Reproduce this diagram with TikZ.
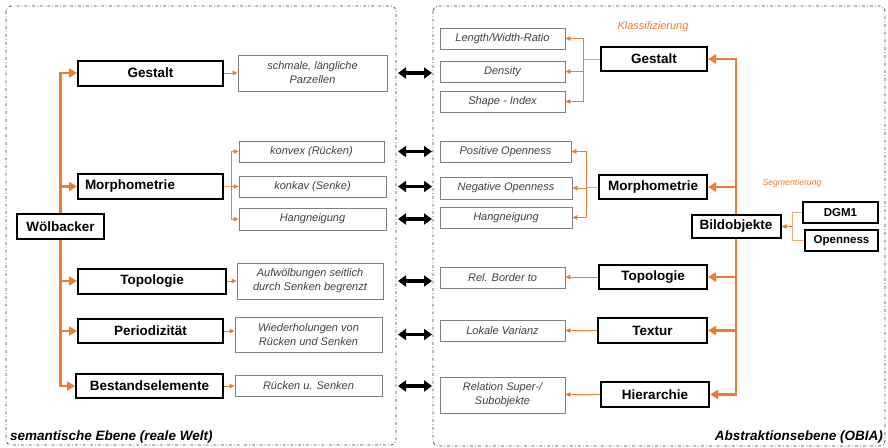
\documentclass[tikz,border=0pt]{standalone}
\usepackage{fontspec}
\setmainfont{Liberation Sans}
\usetikzlibrary{arrows.meta}

\definecolor{orange1}{RGB}{237,125,49}
\definecolor{grau1}{RGB}{128,128,128}
\definecolor{text1}{RGB}{64,64,64}

\tikzset{
  hauptbox/.style={draw=black, line width=2pt, inner sep=0pt, font=\bfseries\fontsize{13.5}{15}\selectfont},
  kleinbox/.style={hauptbox, font=\bfseries\fontsize{11.5}{13}\selectfont},
  merkmal/.style={draw=grau1, line width=0.8pt, inner sep=0pt, align=center, text=text1, font=\itshape\fontsize{11}{14}\selectfont},
  dickpfeil/.style={draw=orange1, line width=2.8pt, -{Triangle[length=8pt,width=9pt]}},
  duennpfeil/.style={draw=orange1, line width=0.8pt, -{Triangle[length=5pt,width=4.5pt]}},
  duennlinie/.style={draw=orange1!65, line width=0.8pt},
  doppelpfeil/.style={line width=3.5pt, {Triangle[length=8pt,width=11pt]}-{Triangle[length=8pt,width=11pt]}},
  rahmen/.style={draw=black!75, line width=0.7pt, dash dot, rounded corners=5pt},
  ebene/.style={font=\bfseries\itshape\fontsize{13.5}{15}\selectfont, inner sep=0pt},
}

\begin{document}
\begin{tikzpicture}[x=1pt, y=-1pt]
	\useasboundingbox (0,0) rectangle (888,447);
	% Rahmen
	\draw[rahmen] (6,6) rectangle (396,445);
	\draw[rahmen] (433,6) rectangle (885,446);
	\node[ebene, anchor=west] (semlabel) at (10,437) {semantische Ebene (reale Welt)};
	\node[ebene, anchor=east] (abslabel) at (883,437) {Abstraktionsebene (OBIA)};

	% linke Seite
	\node[hauptbox, minimum width=87pt, minimum height=25pt] (woelb) at (60.5,226.5) {Wölbacker};
	\node[hauptbox, minimum width=145pt, minimum height=25pt] (lgestalt) at (150.5,73) {Gestalt};
	\node[hauptbox, minimum height=25pt, text width=131pt, inner xsep=7pt, align=left] (lmorph) at (150.5,186.5) {Morphometrie};
	\node[hauptbox, minimum width=148pt, minimum height=25pt] (ltopo) at (152,281) {Topologie};
	\node[hauptbox, minimum width=145pt, minimum height=24pt] (lperiod) at (150.5,331) {Periodizität};
	\node[hauptbox, minimum width=147pt, minimum height=24pt] (lbestand) at (149.5,386) {Bestandselemente};

	\node[merkmal, minimum width=149pt, minimum height=36pt] (schmale) at (312.5,73) {schmale, längliche\\Parzellen};
	\node[merkmal, minimum width=145pt, minimum height=21pt] (konvex) at (311.5,151.5) {konvex (Rücken)};
	\node[merkmal, minimum width=147pt, minimum height=21pt] (konkav) at (312.5,186.5) {konkav (Senke)};
	\node[merkmal, minimum width=147pt, minimum height=22pt] (lhang) at (312.5,219) {Hangneigung};
	\node[merkmal, minimum width=146pt, minimum height=36pt] (aufwoelb) at (310,281) {Aufwölbungen seitlich\\durch Senken begrenzt};
	\node[merkmal, minimum width=147pt, minimum height=35pt] (wiederh) at (308.5,334.5) {Wiederholungen von\\Rücken und Senken};
	\node[merkmal, minimum width=147pt, minimum height=21pt] (ruecken) at (308.5,386) {Rücken u. Senken};

	\draw[dickpfeil] (woelb.north) |- (lgestalt.west);
	\draw[dickpfeil] (woelb.north) |- (lmorph.west);
	\draw[dickpfeil] (woelb.south) |- (ltopo.west);
	\draw[dickpfeil] (woelb.south) |- (lperiod.west);
	\draw[dickpfeil] (woelb.south) |- (lbestand.west);

	\draw[duennpfeil] (lgestalt.east) -- (schmale.west);
	\coordinate (lmv) at (231,186.5);
	\draw[duennlinie] (lmorph.east) -- (lmv);
	\draw[duennpfeil] (lmv) |- (konvex.west);
	\draw[duennpfeil] (lmv) -- (konkav.west);
	\draw[duennpfeil] (lmv) |- (lhang.west);
	\draw[duennpfeil] (ltopo.east) -- (aufwoelb.west);
	\draw[duennpfeil] (lperiod.east) -- (lperiod.east -| wiederh.west);
	\draw[duennpfeil] (lbestand.east) -- (ruecken.west);

	% rechte Seite
	\node[merkmal, minimum width=125pt, minimum height=21pt] (lwratio) at (502.5,38.5) {Length/Width-Ratio};
	\node[merkmal, minimum width=125pt, minimum height=21pt] (density) at (502.5,71.5) {Density};
	\node[merkmal, minimum width=125pt, minimum height=21pt] (shape) at (502.5,101.5) {Shape - Index};
	\node[merkmal, minimum width=131pt, minimum height=21pt] (posopen) at (505.5,151.5) {Positive Openness};
	\node[merkmal, minimum width=132pt, minimum height=22pt] (negopen) at (506,188) {Negative Openness};
	\node[merkmal, minimum width=132pt, minimum height=21pt] (rhang) at (506,217.5) {Hangneigung};
	\node[merkmal, minimum width=125pt, minimum height=21pt] (relborder) at (502.5,277.5) {Rel. Border to};
	\node[merkmal, minimum width=125pt, minimum height=21pt] (lokvar) at (502.5,330.5) {Lokale Varianz};
	\node[merkmal, minimum width=125pt, minimum height=36pt] (relsuper) at (502.5,395) {Relation Super-/\\Subobjekte};

	\node[hauptbox, minimum width=106pt, minimum height=24pt] (rgestalt) at (654,59) {Gestalt};
	\node[hauptbox, minimum width=108pt, minimum height=24pt] (rmorph) at (653,187) {Morphometrie};
	\node[hauptbox, minimum width=108pt, minimum height=24pt] (rtopo) at (653,277) {Topologie};
	\node[hauptbox, minimum width=109pt, minimum height=25pt] (textur) at (652.5,330.5) {Textur};
	\node[hauptbox, minimum width=108pt, minimum height=25pt] (hierarchie) at (655,394.5) {Hierarchie};
	\node[hauptbox, minimum width=89pt, minimum height=23pt] (bildobj) at (736,226.5) {Bildobjekte};
	\node[kleinbox, minimum width=75pt, minimum height=21pt] (dgm) at (840.5,212.5) {DGM1};
	\node[kleinbox, minimum width=73pt, minimum height=21pt] (openness) at (841.5,240.5) {Openness};

	\node[text=orange1, font=\itshape\fontsize{11}{13}\selectfont] (klass) at (653,27) {Klassifizierung};
	\node[text=orange1, font=\itshape\fontsize{8.7}{10}\selectfont] (segm) at (792,183) {Segmentierung};

	\draw[dickpfeil] (bildobj.north) |- (rgestalt.east);
	\draw[dickpfeil] (bildobj.north) |- (rmorph.east);
	\draw[dickpfeil] (bildobj.south) |- (rtopo.east);
	\draw[dickpfeil] (bildobj.south) |- (textur.east);
	\draw[dickpfeil] (bildobj.south) |- (hierarchie.east);

	\coordinate (sv) at (792,226.5);
	\draw[duennlinie] (dgm.west) -| (sv);
	\draw[duennlinie] (openness.west) -| (sv);
	\draw[duennpfeil] (sv) -- (bildobj.east);

	\coordinate (rgv) at (583,59);
	\draw[duennlinie] (rgestalt.west) -- (rgv);
	\draw[duennpfeil] (rgv) |- (lwratio.east);
	\draw[duennpfeil] (rgv) |- (density.east);
	\draw[duennpfeil] (rgv) |- (shape.east);
	\coordinate (rmv) at (586,187);
	\draw[duennlinie] (rmorph.west) -- (rmv);
	\draw[duennpfeil] (rmv) |- (posopen.east);
	\draw[duennpfeil] (rmv) |- (negopen.east);
	\draw[duennpfeil] (rmv) |- (rhang.east);
	\draw[duennpfeil] (rtopo.west) -- (rtopo.west -| relborder.east);
	\draw[duennpfeil] (textur.west) -- (textur.west -| lokvar.east);
	\draw[duennpfeil] (hierarchie.west) -- (hierarchie.west -| relsuper.east);

	% Zuordnung semantisch <-> OBIA
	\coordinate (pl) at (398,0);
	\coordinate (pr) at (432,0);
	\draw[doppelpfeil] (schmale.east -| pl) -- (schmale.east -| pr);
	\draw[doppelpfeil] (konvex.east -| pl) -- (konvex.east -| pr);
	\draw[doppelpfeil] (konkav.east -| pl) -- (konkav.east -| pr);
	\draw[doppelpfeil] (lhang.east -| pl) -- (lhang.east -| pr);
	\draw[doppelpfeil] (aufwoelb.east -| pl) -- (aufwoelb.east -| pr);
	\draw[doppelpfeil] (wiederh.east -| pl) -- (wiederh.east -| pr);
	\draw[doppelpfeil] (ruecken.east -| pl) -- (ruecken.east -| pr);
\end{tikzpicture}
\end{document}
